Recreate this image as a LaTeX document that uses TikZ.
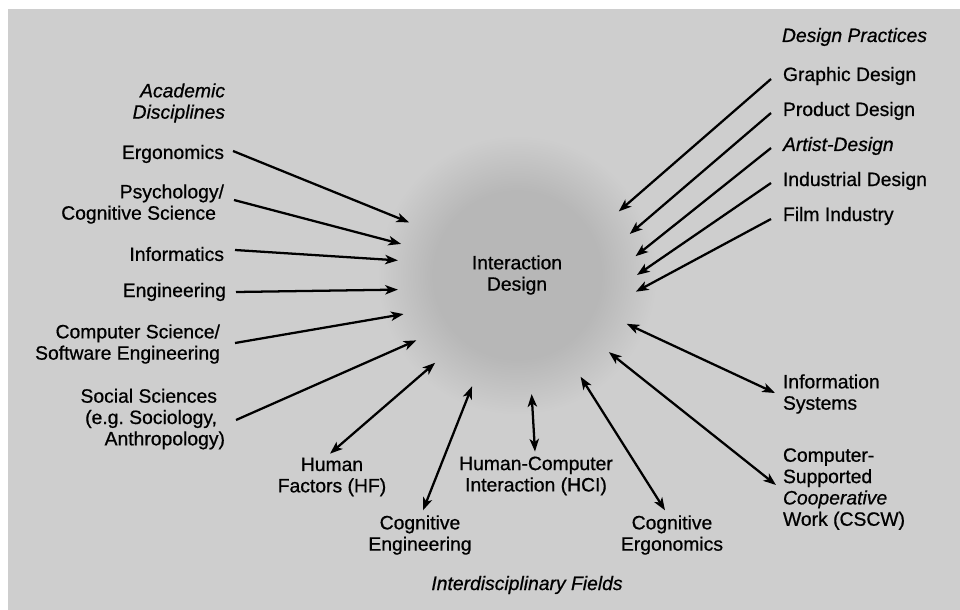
\documentclass[tikz,border=0pt]{standalone}
\usepackage{fontspec}
\setmainfont{Liberation Sans}[FakeBold=0.7]
\usetikzlibrary{arrows.meta}
\definecolor{bggray}{RGB}{206,206,206}
\definecolor{coregray}{RGB}{183,183,183}
\pgfdeclareradialshading{blobshade}{\pgfpoint{0bp}{0bp}}{color(0bp)=(coregray); color(15bp)=(coregray); color(25bp)=(bggray); color(50bp)=(bggray)}
\begin{document}
\begin{tikzpicture}[x=0.75pt,y=-0.75pt,
  lab/.style={inner sep=0pt, outer sep=0pt, text=black, font=\fontsize{14.5}{16}\selectfont},
  itlab/.style={lab, font=\fontsize{14.5}{16}\selectfont\itshape},
  tip/.tip={Stealth[length=9.5pt,width=7pt,inset=2.5pt]},
  arr/.style={line width=1.7pt, -tip},
  darr/.style={line width=1.7pt, tip-tip}]
\useasboundingbox (0,0) rectangle (960,610);
\fill[white] (0,0) rectangle (960,610);
\fill[bggray] (8,9) rectangle (960,610);
\shade[shading=blobshade] (517,275) circle[radius=140];

% central node
\node[lab, circle, minimum size=180pt, align=center] (core) at (517,275) {Interaction\\Design};

% academic disciplines
\node[itlab, anchor=east, align=right] (acad) at (225,103) {Academic\\Disciplines};
\node[lab, anchor=east] (ergo) at (224,154) {Ergonomics};
\node[lab, anchor=east, align=right] (psych) at (224,204) {Psychology/\\\mbox{Cognitive Science\kern6pt}};
\node[lab, anchor=east] (info) at (224,254) {Informatics};
\node[lab, anchor=east] (eng) at (226,292) {Engineering};
\node[lab, anchor=east, align=right] (cs) at (220,344) {Computer Science/\\Software Engineering};
\node[lab, anchor=east, align=right] (soc) at (225,419) {\mbox{Social Sciences\kern6pt}\\\mbox{(e.g.\ Sociology,\kern6pt}\\Anthropology)};

% design practices
\node[itlab, anchor=west] (dp) at (782,37) {Design Practices};
\node[lab, anchor=west] (graphic) at (783,76) {Graphic Design};
\node[lab, anchor=west] (product) at (783,111) {Product Design};
\node[itlab, anchor=west] (artist) at (783,146) {Artist-Design};
\node[lab, anchor=west] (industrial) at (783,181) {Industrial Design};
\node[lab, anchor=west] (film) at (783,216) {Film Industry};

% interdisciplinary fields
\node[lab, align=center] (hf) at (332,477) {Human\\Factors (HF)};
\node[lab, align=center] (cogeng) at (420,535) {Cognitive\\Engineering};
\node[lab, align=center] (hci) at (536,476) {Human-Computer\\Interaction (HCI)};
\node[lab, align=center] (cogerg) at (672,535) {Cognitive\\Ergonomics};
\node[lab, anchor=west, align=left] (infosys) at (783,394) {Information\\Systems};
\node[lab, anchor=west, align=left] (cscw) at (783,489) {Computer-\\Supported\\\textit{Cooperative}\\Work (CSCW)};
\node[itlab] (interdisc) at (527,585) {Interdisciplinary Fields};

% arrows from academic disciplines
\draw[arr] ([shift={(9,-3)}]ergo.east) -- (core.154.9);
\draw[arr] ([shift={(10,-4)}]psych.east) -- (core.165.6);
\draw[arr] ([shift={(11,-4)}]info.east) -- (core.173.8);
\draw[arr] ([shift={(10,0)}]eng.east) -- (core.187.1);
\draw[arr] ([shift={(15,-1)}]cs.east) -- (core.199.2);
\draw[arr] ([shift={(11,1)}]soc.east) -- (core.213.8);

% arrows from design practices
\draw[arr] ([shift={(-12,3)}]graphic.west) -- (core.32.2);
\draw[arr] ([shift={(-12,2)}]product.west) -- (core.20.4);
\draw[arr] ([shift={(-12,2)}]artist.west) -- (core.9.6);
\draw[arr] ([shift={(-12,2)}]industrial.west) -- (core.0.9);
\draw[arr] ([shift={(-12,3)}]film.west) -- (core.-8.1);

% double arrows with interdisciplinary fields
\draw[darr] ([shift={(-2,-4)}]hf.north) -- (core.227);
\draw[darr] ([shift={(3,-5)}]cogeng.north) -- (core.248.7);
\draw[darr] ([shift={(-1,-5)}]hci.north) -- (core.277.1);
\draw[darr] ([shift={(-7,-5)}]cogerg.north) -- (core.302.2);
\draw[darr] ([shift={(-7,-4)}]cscw.west) -- (core.320.5);
\draw[darr] ([shift={(-8,-1)}]infosys.west) -- (core.336.9);
\end{tikzpicture}
\end{document}
